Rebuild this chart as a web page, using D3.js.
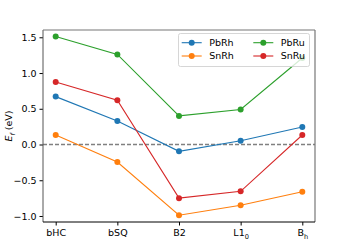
<!DOCTYPE html>
<html><head><meta charset="utf-8">
<script src="https://cdn.jsdelivr.net/npm/d3@7"></script>
<style>body{margin:0;background:#fff}svg{display:block}text{font-family:"DejaVu Sans",sans-serif}</style>
</head><body><svg id="c" width="350" height="250"></svg>
<script>
const categories = ["bHC","bSQ","B2","L1_0","B_h"];
const seriesNames = ["PbRh","SnRh","PbRu","SnRu"];
const PbRh = [0.67, 0.33, -0.095, 0.053, 0.245];
const SnRh = [0.133, -0.245, -0.99, -0.85, -0.66];
const PbRu = [1.51, 1.26, 0.40, 0.49, 1.21];
const SnRu = [0.874, 0.62, -0.75, -0.655, 0.133];
const yTicks = [1.5, 1.0, 0.5, 0.0, -0.5, -1.0];
const colors = ["#1f77b4","#ff7f0e","#2ca02c","#d62728"];
const seriesData = [PbRh, SnRh, PbRu, SnRu];

const svg = d3.select("#c");
const L=43, R=315, T=30, B=222;
const x = d3.scalePoint().domain(categories).range([55.7, 302.3]);
const y = d3.scaleLinear().domain([-1.084, 1.602]).range([B, T]);
const fs = 9.5;

// zero line
svg.append("line").attr("x1",L).attr("x2",R).attr("y1",y(0)).attr("y2",y(0))
  .attr("stroke","#808080").attr("stroke-width",1.4).attr("stroke-dasharray","4,2");

const line = d3.line().x((d,i)=>x(categories[i])).y(d=>y(d));
seriesData.forEach((s,k)=>{
  svg.append("path").attr("d",line(s)).attr("fill","none").attr("stroke",colors[k]).attr("stroke-width",1.1);
  svg.selectAll(null).data(s).enter().append("circle")
    .attr("cx",(d,i)=>x(categories[i])).attr("cy",d=>y(d)).attr("r",3).attr("fill",colors[k]);
});

// axes
const fmt = d => d3.format(".1f")(d).replace("-", "\u2212");
const yAxis = svg.append("g").attr("transform",`translate(${L},0)`)
  .call(d3.axisLeft(y).tickValues(yTicks).tickFormat(fmt).tickSize(3.5).tickPadding(3));
yAxis.select(".domain").remove();
yAxis.selectAll("text").attr("font-size",fs).attr("fill","#000").style("font-family","DejaVu Sans");
yAxis.selectAll("line").attr("stroke","#000");

const xAxis = svg.append("g").attr("transform",`translate(0,${B})`)
  .call(d3.axisBottom(x).tickSize(3.5).tickPadding(3).tickFormat(""));
xAxis.select(".domain").remove();
xAxis.selectAll("line").attr("stroke","#000");
xAxis.selectAll(".tick").each(function(d){
  const t = d3.select(this).append("text").attr("y",14).attr("text-anchor","middle")
    .attr("font-size",fs).attr("fill","#000");
  const parts = d.split("_");
  t.append("tspan").text(parts[0]);
  if(parts[1]) t.append("tspan").attr("font-size",fs*0.7).attr("dy",2.5).text(parts[1]);
});

// spines
svg.append("line").attr("x1",L).attr("x2",L).attr("y1",T).attr("y2",B).attr("stroke","#555").attr("stroke-width",1);
svg.append("line").attr("x1",L).attr("x2",R).attr("y1",T).attr("y2",T).attr("stroke","#777").attr("stroke-width",1.2);
svg.append("line").attr("x1",R).attr("x2",R).attr("y1",T).attr("y2",B).attr("stroke","#777").attr("stroke-width",1.2);
svg.append("line").attr("x1",L).attr("x2",R).attr("y1",B).attr("y2",B).attr("stroke","#000").attr("stroke-width",1);

// y label
const yl = svg.append("text").attr("transform",`translate(12,${(T+B)/2}) rotate(-90)`)
  .attr("text-anchor","middle").attr("font-size",fs).attr("fill","#000");
yl.append("tspan").attr("font-style","italic").text("E");
yl.append("tspan").attr("font-style","italic").attr("font-size",fs*0.7).attr("dy",2.5).text("f");
yl.append("tspan").attr("dy",-2.5).text(" (eV)");

// legend
const lg = svg.append("g");
lg.append("rect").attr("x",178.5).attr("y",33.5).attr("width",131).attr("height",33).attr("rx",2)
  .attr("fill","#fff").attr("fill-opacity",0.8).attr("stroke","#ccc").attr("stroke-width",0.8);
const pos = [[181.7,42.7],[181.7,56],[253.3,42.7],[253.3,56]];
seriesNames.forEach((n,k)=>{
  const [px,py]=pos[k];
  lg.append("line").attr("x1",px).attr("x2",px+20).attr("y1",py).attr("y2",py).attr("stroke",colors[k]).attr("stroke-width",1.1);
  lg.append("circle").attr("cx",px+10).attr("cy",py).attr("r",3).attr("fill",colors[k]);
  lg.append("text").attr("x",px+27.5).attr("y",py+3.4).attr("font-size",fs).attr("fill","#000").text(n);
});
</script></body></html>
